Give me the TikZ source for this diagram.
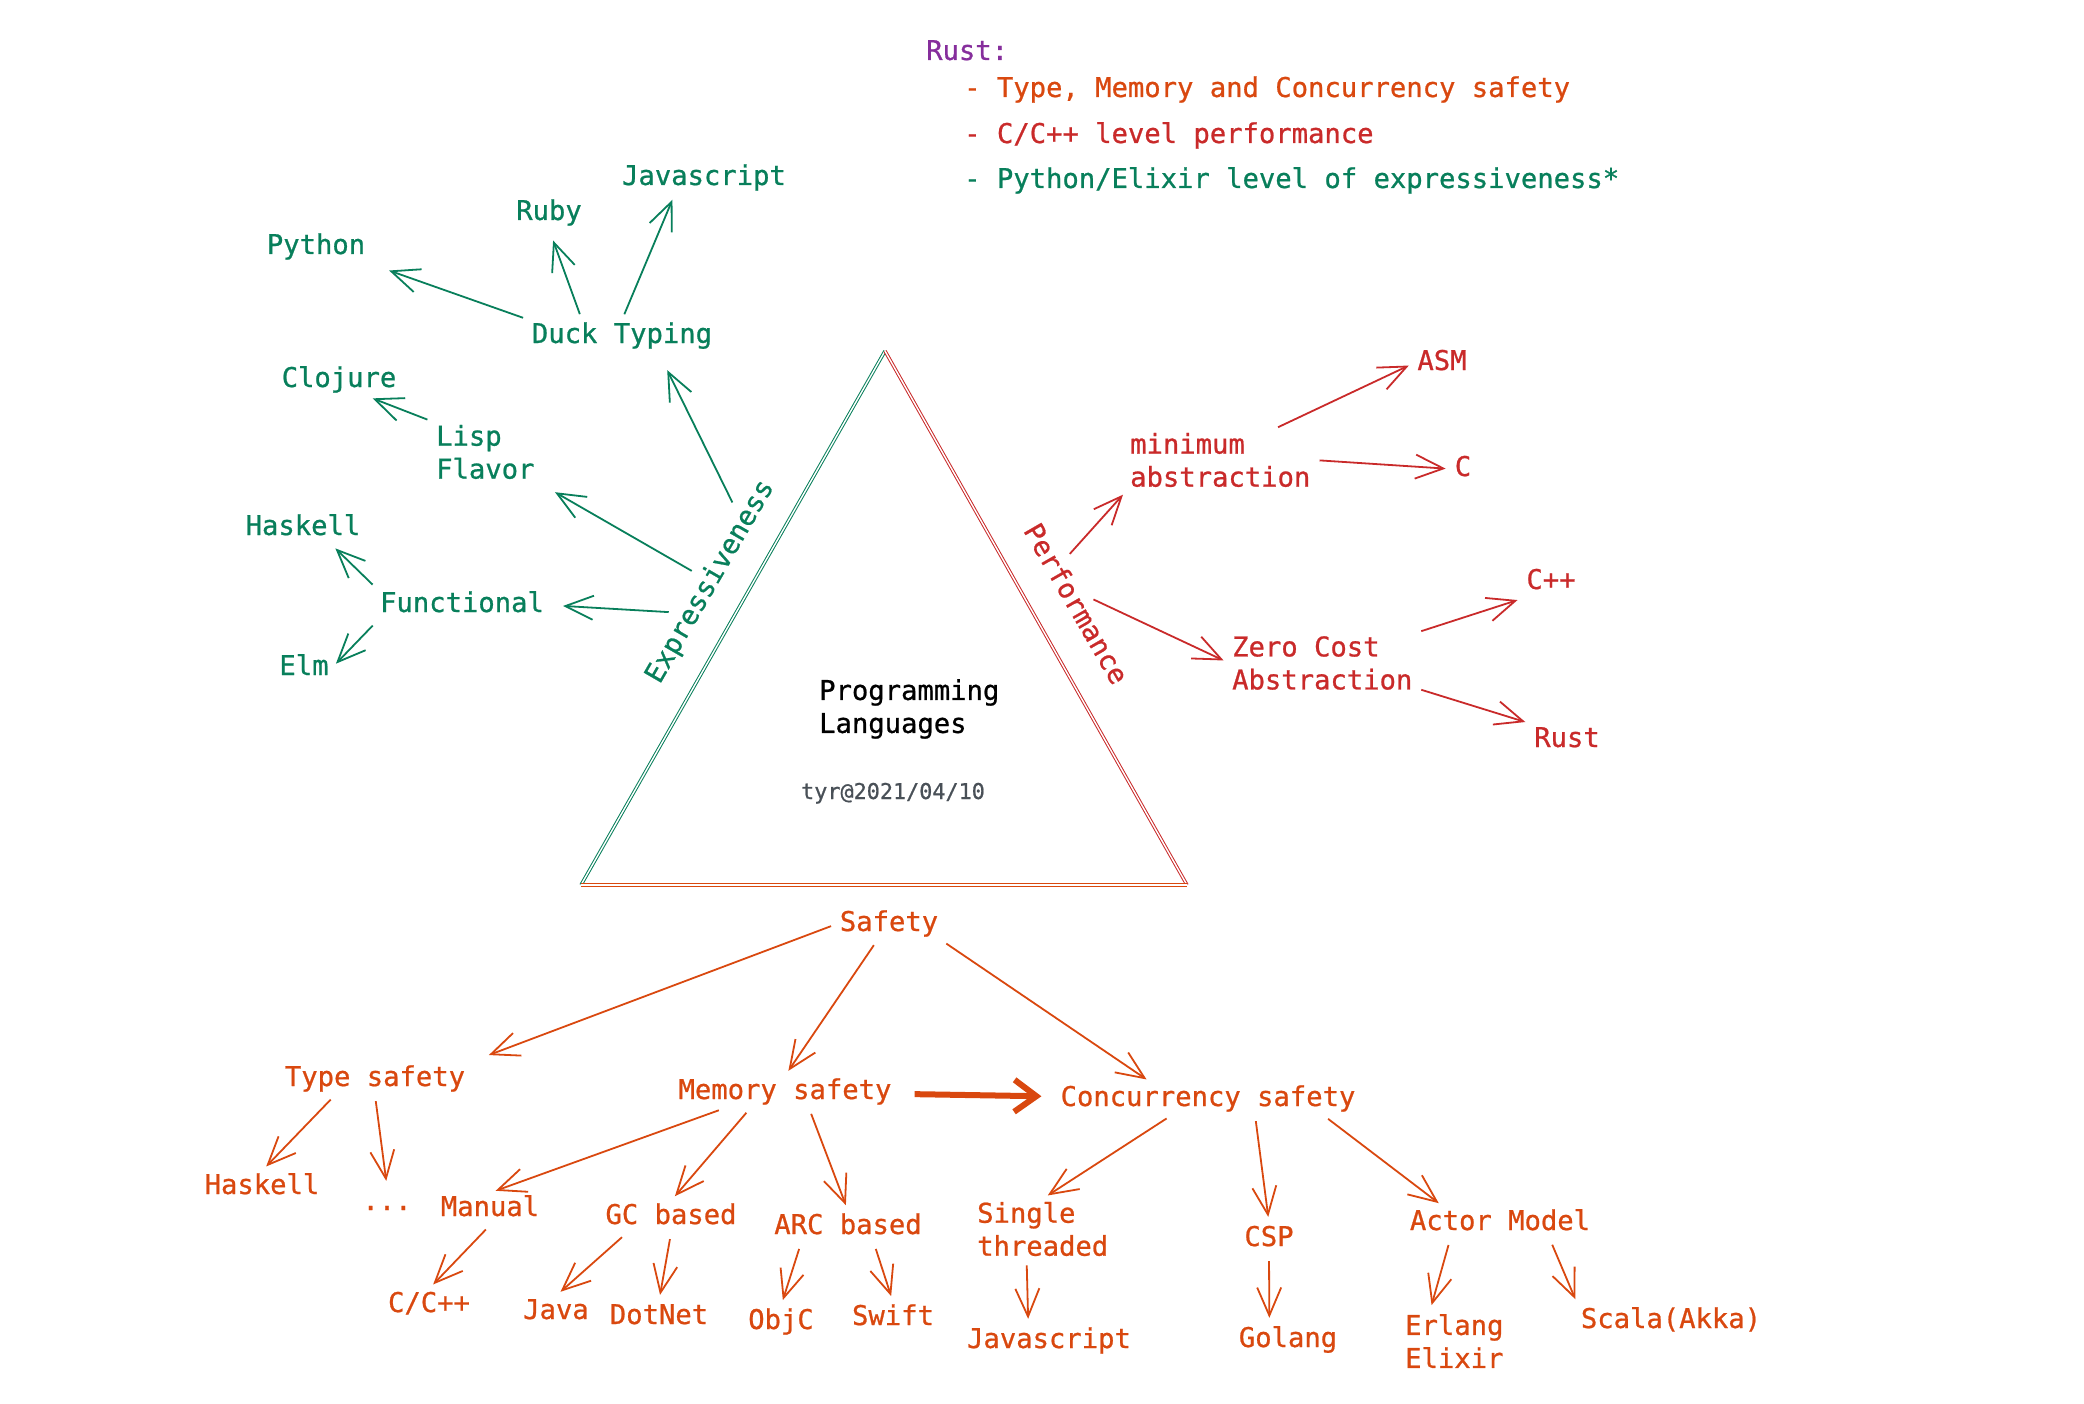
\documentclass[tikz,border=0pt]{standalone}
\usepackage{fontspec}
\setmonofont{DejaVu Sans Mono}[FakeBold=0.8]
\usetikzlibrary{arrows.meta,positioning}
\definecolor{grn}{HTML}{087F5B}
\definecolor{rd}{HTML}{C92A2A}
\definecolor{org}{HTML}{D9480F}
\definecolor{prp}{HTML}{862E9C}
\definecolor{gry}{HTML}{495057}

\begin{document}
\begin{tikzpicture}[x=1pt, y=-1pt,
  lbl/.style={font=\ttfamily\fontsize{27.2}{33}\selectfont, inner sep=3pt, text height=20pt, text depth=6pt},
  two/.style={align=left, anchor=west, text height=, text depth=},
  arr/.style={-{Straight Barb[length=28pt,width=24pt]}, line width=1.8pt, shorten >=6pt, shorten <=6pt},
  fat/.style={-{Straight Barb[length=22pt,width=32pt]}, line width=6pt, shorten >=16pt, shorten <=20pt},
  side/.style={line width=1pt, double=white, double distance=1.4pt}]
   \useasboundingbox (0,0) rectangle (2084,1404);
   \coordinate (top) at (885,351);
   \coordinate (bl) at (581,885);
   \coordinate (br) at (1187,885);
   \draw[side,grn] (bl) -- (top);
   \draw[side,rd] (top) -- (br);
   \draw[side,org] (bl) -- (br);
   \node[lbl,two] (pl) at (816,709) {Programming\\Languages};
   \node[lbl,font=\ttfamily\fontsize{21.8}{26}\selectfont,text=gry] (date) at (893,792) {tyr@2021/04/10};

   \node[lbl,prp,anchor=west] (rusthead) at (923,53) {Rust:};
   \node[lbl,org,anchor=west] (note1) at (961,90) {- Type, Memory and Concurrency safety};
   \node[lbl,rd,anchor=west] (note2) at (961,136) {- C/C++ level performance};
   \node[lbl,grn,anchor=west] (note3) at (961,181) {- Python/Elixir level of expressiveness*};

   \begin{scope}[grn, every node/.style={lbl}]
    \node (jsa) at (704,178) {Javascript};
    \node (ruby) at (549,213) {Ruby};
    \node (python) at (316,247) {Python};
    \node (duck) at (622,336) {Duck Typing};
    \node (clojure) at (339,380) {Clojure};
    \node[two] (lisp) at (433,452) {Lisp\\Flavor};
    \node (haskella) at (303,528) {Haskell};
    \node (func) at (462,605) {Functional};
    \node (elm) at (304,668) {Elm};
    \node[rotate=60] (expr) at (711,582) {Expressiveness};
    \draw[arr, shorten >=22pt] (duck.north west) -- (python.south east);
    \draw[arr, shorten >=12pt] (duck.158) -- (ruby.south);
    \draw[arr] (duck.north) -- (jsa.209);
    \draw[arr, shorten >=20pt] (expr.12) -- (duck.-24);
    \draw[arr, shorten >=20pt] (expr.north) -- (lisp.south east);
    \draw[arr, shorten >=16pt] (expr.160) -- (func.east);
    \draw[arr] (lisp.north west) -- (clojure.-30);
    \draw[arr] (func.north west) -- (haskella.-30);
    \draw[arr] (func.south west) -- (elm.east);
   \end{scope}

   \begin{scope}[rd, every node/.style={lbl}]
    \node[rotate=-60] (perf) at (1074,605) {Performance};
    \node[two] (mini) at (1127,460) {minimum\\abstraction};
    \node (asm) at (1442,363) {ASM};
    \node (c) at (1463,469) {C};
    \node[two] (zero) at (1229,663) {Zero Cost\\Abstraction};
    \node (cpp) at (1551,582) {C++};
    \node (rust) at (1567,740) {Rust};
    \draw[arr] (perf.160) -- (mini.south west);
    \draw[arr] (perf.north) -- (zero.west);
    \draw[arr] (mini.30) -- (asm.west);
    \draw[arr] (mini.east) -- (c.west);
    \draw[arr] (zero.north east) -- (cpp.south west);
    \draw[arr] (zero.-15) -- (rust.north west);
   \end{scope}

   \begin{scope}[org, every node/.style={lbl}]
    \node (safety) at (889,924) {Safety};
    \node (types) at (375,1079) {Type safety};
    \node (mem) at (785,1092) {Memory safety};
    \node (conc) at (1208,1099) {Concurrency safety};
    \node (haskellb) at (262,1187) {Haskell};
    \node (dots) at (387,1203) {...};
    \node (manual) at (490,1209) {Manual};
    \node (gc) at (671,1217) {GC based};
    \node (arc) at (848,1227) {ARC based};
    \node[two] (single) at (974,1229) {Single\\threaded};
    \node (csp) at (1269,1239) {CSP};
    \node (actor) at (1500,1223) {Actor Model};
    \node (ccpp) at (429,1305) {C/C++};
    \node (java) at (556,1312) {Java};
    \node (dotnet) at (659,1317) {DotNet};
    \node (objc) at (781,1322) {ObjC};
    \node (swift) at (893,1318) {Swift};
    \node (jsb) at (1049,1341) {Javascript};
    \node (golang) at (1288,1340) {Golang};
    \node[two] (erlang) at (1402,1341) {Erlang\\Elixir};
    \node (scala) at (1671,1321) {Scala(Akka)};
    \draw[arr, shorten >=22pt] (safety.west) -- (types.north east);
    \draw[arr] (safety.234) -- (mem.north);
    \draw[arr] (safety.south east) -- (conc.164);
    \draw[fat] (mem) -- (conc);
    \draw[arr] (types.202) -- (haskellb.north);
    \draw[arr] (types.south) -- (dots.north);
    \draw[arr] (mem.195) -- (manual.north);
    \draw[arr] (mem.205) -- (gc.north);
    \draw[arr] (mem.-34) -- (arc.north);
    \draw[arr] (manual.south) -- (ccpp.north);
    \draw[arr] (gc.200) -- (java.north);
    \draw[arr] (gc.south) -- (dotnet.north);
    \draw[arr] (arc.199) -- (objc.north);
    \draw[arr] (arc.-32) -- (swift.north);
    \draw[arr] (conc.204) -- (single.north);
    \draw[arr] (conc.-19) -- (csp.north);
    \draw[arr] (conc.-8) -- (actor.164);
    \draw[arr] (single.242) -- (jsb.142);
    \draw[arr] (csp.south) -- (golang.139);
    \draw[arr] (actor.198) -- (erlang.129);
    \draw[arr] (actor.-18) -- (scala.north west);
   \end{scope}
\end{tikzpicture}
\end{document}
